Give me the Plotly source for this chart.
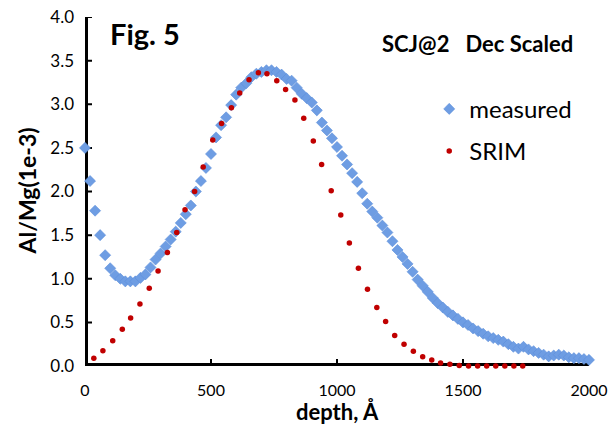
import plotly.graph_objects as go

# measured Al/Mg (1e-3) vs depth (Å)
measured_depth = [0, 20, 40, 60, 80, 100, 120, 140, 160, 180, 200, 220, 240, 260, 280, 300,
                  320, 340, 360, 380, 400, 420, 440, 460, 480, 500, 520, 540, 560, 580, 600,
                  620, 640, 660, 680, 700, 720, 740, 760, 780, 800, 820, 840, 860, 880, 900,
                  920, 940, 960, 980, 1000, 1020, 1040, 1060, 1080, 1100, 1120, 1140, 1160,
                  1180, 1200, 1220, 1240, 1260, 1280, 1300, 1320, 1340, 1360, 1380, 1400,
                  1420, 1440, 1460, 1480, 1500, 1520, 1540, 1560, 1580, 1600, 1620, 1640,
                  1660, 1680, 1700, 1720, 1740, 1760, 1780, 1800, 1820, 1840, 1860, 1880,
                  1900, 1920, 1940, 1960, 1980, 2000]
measured_value = [2.50, 2.12, 1.78, 1.50, 1.27, 1.12, 1.04, 1.00, 0.97, 0.97, 0.97, 1.01, 1.05,
                  1.13, 1.22, 1.29, 1.37, 1.45, 1.54, 1.64, 1.74, 1.84, 2.00, 2.12, 2.27, 2.43,
                  2.62, 2.76, 2.85, 2.99, 3.11, 3.19, 3.24, 3.31, 3.35, 3.37, 3.39, 3.39, 3.37,
                  3.34, 3.29, 3.27, 3.19, 3.12, 3.07, 3.02, 2.93, 2.79, 2.70, 2.61, 2.51, 2.41,
                  2.31, 2.21, 2.11, 1.98, 1.86, 1.77, 1.70, 1.61, 1.53, 1.43, 1.33, 1.25, 1.17,
                  1.08, 0.99, 0.92, 0.85, 0.78, 0.72, 0.67, 0.62, 0.58, 0.54, 0.50, 0.47, 0.43,
                  0.40, 0.37, 0.34, 0.32, 0.30, 0.28, 0.25, 0.22, 0.20, 0.22, 0.19, 0.17, 0.15,
                  0.13, 0.11, 0.12, 0.13, 0.12, 0.10, 0.09, 0.09, 0.08, 0.07]

# SRIM simulation
srim_depth = [35, 71, 110, 148, 181, 218, 255, 290, 327, 364, 397, 435, 469, 507, 542, 581,
              614, 651, 688, 722, 761, 796, 833, 868, 906, 939, 977, 1015, 1049, 1085, 1121,
              1158, 1193, 1229, 1266, 1303, 1340, 1376, 1411, 1448, 1485, 1522, 1558, 1594,
              1630, 1666, 1702, 1737]
srim_value = [0.09, 0.175, 0.29, 0.42, 0.55, 0.71, 0.89, 1.09, 1.30, 1.53, 1.79, 2.00, 2.28,
              2.59, 2.78, 2.96, 3.13, 3.28, 3.36, 3.35, 3.27, 3.17, 3.05, 2.84, 2.58, 2.31,
              2.01, 1.73, 1.41, 1.12, 0.88, 0.67, 0.51, 0.35, 0.25, 0.17, 0.107, 0.07, 0.034,
              0.02, 0.005, 0.0, 0.0, 0.0, 0.0, 0.0, 0.0, 0.0]

x_ticks = [0, 500, 1000, 1500, 2000]
y_ticks = [0.0, 0.5, 1.0, 1.5, 2.0, 2.5, 3.0, 3.5, 4.0]
x_range = [0, 2000]
y_range = [0, 4]

FONT = "Lato"
INK = "#000000"
W, H = 610, 427
ML, MR, MT, MB = 85, 21, 17, 61
PW, PH = W - ML - MR, H - MT - MB
XPX = (x_range[1] - x_range[0]) / PW   # data units per pixel (x)
YPX = (y_range[1] - y_range[0]) / PH   # data units per pixel (y)
AXIS_PX, TICK_W_PX, TICK_L_PX = 3, 2, 7


def rect(x0, x1, y0, y1):
    return [x0, x1, x1, x0, x0, None], [y0, y0, y1, y1, y0, None]


# axis frame + inside ticks as filled polygons (derived from the axis ranges and tick arrays)
fx, fy = [], []
for px, py in [rect(x_range[0], x_range[0] + AXIS_PX * XPX, y_range[0], y_range[1]),
               rect(x_range[0], x_range[1], y_range[0], y_range[0] + AXIS_PX * YPX)]:
    fx += px
    fy += py
for v in x_ticks:
    px, py = rect(v - TICK_W_PX / 2 * XPX, v + TICK_W_PX / 2 * XPX,
                  y_range[0], y_range[0] + TICK_L_PX * YPX)
    fx += px
    fy += py
for v in y_ticks:
    px, py = rect(x_range[0], x_range[0] + TICK_L_PX * XPX,
                  v - TICK_W_PX / 2 * YPX, v + TICK_W_PX / 2 * YPX)
    fx += px
    fy += py

fig = go.Figure()
fig.add_trace(go.Scatter(x=fx, y=fy, mode="lines", fill="toself", fillcolor=INK,
                         line=dict(width=0, color=INK), hoverinfo="skip",
                         showlegend=False))

fig.add_trace(go.Scatter(
    x=measured_depth, y=measured_value, mode="markers", name="measured",
    legendgroup="a",
    marker=dict(symbol="diamond", size=8.5, color="#6E9DE3",
                line=dict(width=0.6, color="#5C8FDA")),
    cliponaxis=False,
))
fig.add_trace(go.Scatter(
    x=srim_depth, y=srim_value, mode="markers", name="SRIM",
    legendgroup="b",
    marker=dict(symbol="circle", size=5.5, color="#C00000"),
    cliponaxis=False,
))

axis_common = dict(
    showline=False, ticks="", showgrid=False, zeroline=False,
    automargin=False,
)

fig.update_xaxes(
    range=x_range, tickvals=x_ticks, ticktext=[str(v) for v in x_ticks],
    tickfont=dict(family=FONT, size=16, color=INK),
    ticklabelstandoff=13,
    **axis_common,
)
fig.update_yaxes(
    range=y_range, tickvals=y_ticks, ticktext=[f"{v:.1f}" for v in y_ticks],
    tickfont=dict(family=FONT, size=17, color=INK),
    ticklabelstandoff=10,
    **axis_common,
)

# axis titles
fig.add_annotation(text="<b>depth, Å</b>", xref="paper", yref="paper",
                   x=(337 - ML) / PW, y=(MT + PH - 411) / PH,
                   xanchor="center", yanchor="middle", showarrow=False,
                   font=dict(family=FONT, size=22, color=INK))
fig.add_annotation(text="<b>Al/Mg(1e-3)</b>", xref="paper", yref="paper",
                   x=(26 - ML) / PW, y=0.5, textangle=-90,
                   xanchor="center", yanchor="middle", showarrow=False,
                   font=dict(family=FONT, size=23, color=INK))

fig.add_annotation(text="<b>Fig. 5</b>", xref="paper", yref="paper", x=0.120, y=0.952,
                   xanchor="center", yanchor="middle",
                   showarrow=False, font=dict(family=FONT, size=29, color=INK))
fig.add_annotation(text="<b>SCJ@2\u00a0\u00a0\u00a0Dec Scaled</b>", xref="paper", yref="paper",
                   x=0.779, y=0.925, xanchor="center", yanchor="middle", showarrow=False,
                   font=dict(family=FONT, size=22, color=INK))

fig.update_layout(
    width=W, height=H,
    margin=dict(l=ML, r=MR, t=MT, b=MB, autoexpand=False),
    paper_bgcolor="#FFFFFF", plot_bgcolor="#FFFFFF",
    showlegend=True,
    legend=dict(x=0.683, y=0.80, xanchor="left", yanchor="top",
                font=dict(family=FONT, size=24, color=INK),
                bgcolor="rgba(0,0,0,0)", tracegroupgap=8, itemwidth=30),
)

fig.write_html("out.html", config={"displayModeBar": False},
               post_script="document.body.style.margin='0px';")
